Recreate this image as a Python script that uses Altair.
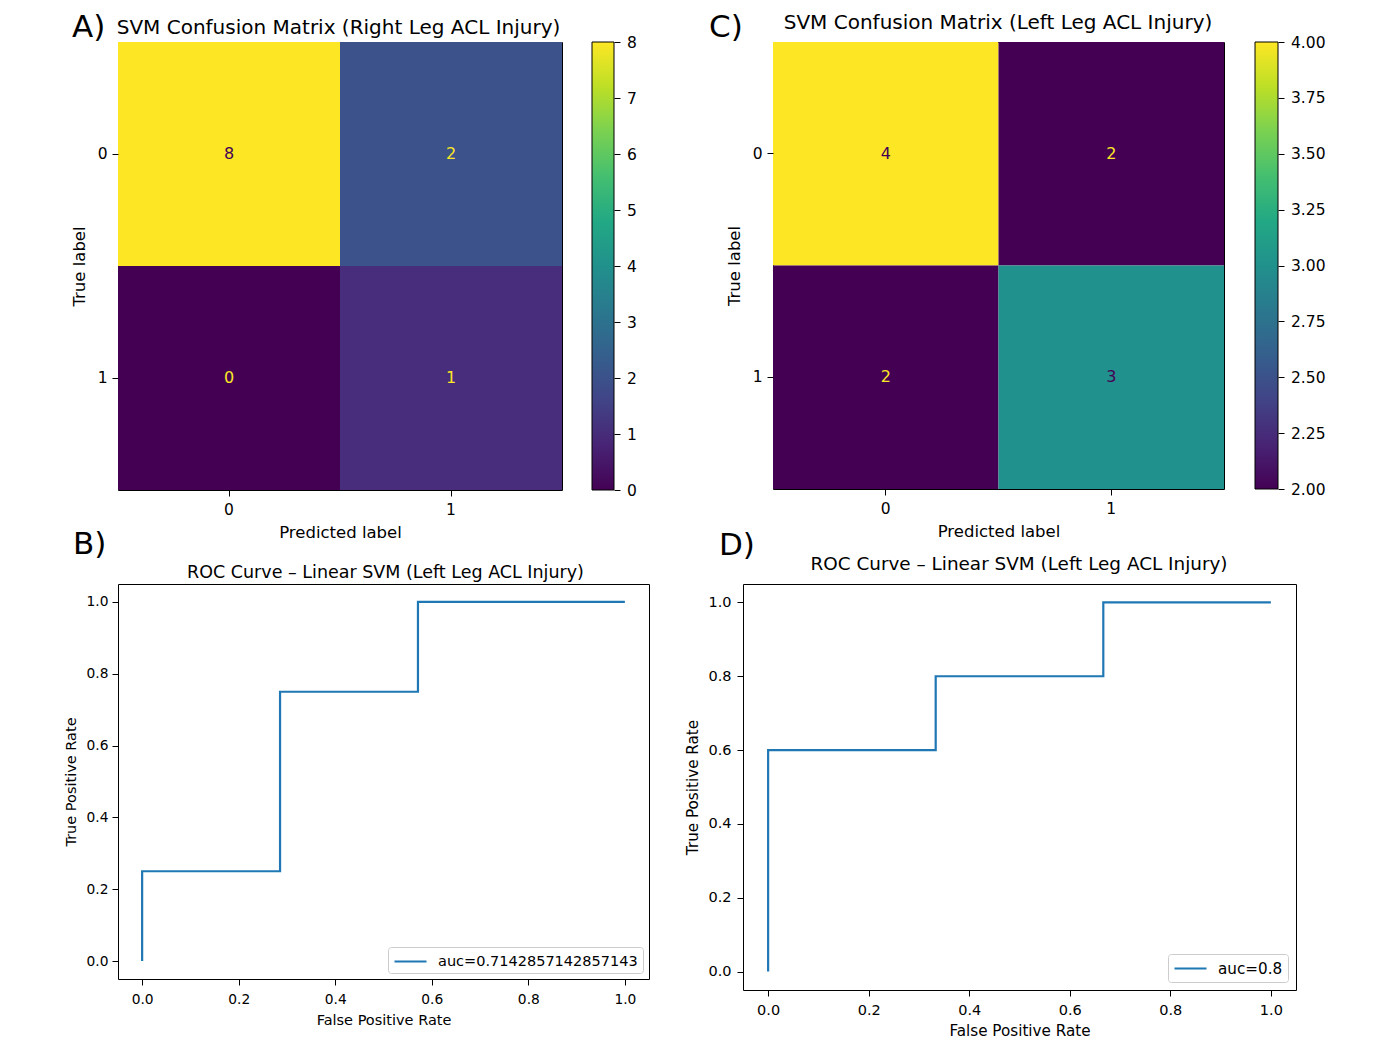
import altair as alt
import pandas as pd

FONT = "DejaVu Sans"

# ---------------- data ----------------
# Panel A: confusion matrix (right leg)
cm_a_true = [0, 0, 1, 1]
cm_a_pred = [0, 1, 0, 1]
cm_a_vals = [8, 2, 0, 1]
cbar_a_ticks = [0, 1, 2, 3, 4, 5, 6, 7, 8]
title_a = "SVM Confusion Matrix (Right Leg ACL Injury)"

# Panel C: confusion matrix (left leg)
cm_c_true = [0, 0, 1, 1]
cm_c_pred = [0, 1, 0, 1]
cm_c_vals = [4, 2, 2, 3]
cbar_c_ticks = [2.0, 2.25, 2.5, 2.75, 3.0, 3.25, 3.5, 3.75, 4.0]
title_c = "SVM Confusion Matrix (Left Leg ACL Injury)"

# Panel B: ROC curve
roc_b_fpr = [0.0, 0.0, 0.2857, 0.2857, 0.5714, 0.5714, 1.0]
roc_b_tpr = [0.0, 0.25, 0.25, 0.75, 0.75, 1.0, 1.0]
roc_b_label = "auc=0.7142857142857143"
title_b = "ROC Curve \u2013 Linear SVM (Left Leg ACL Injury)"

# Panel D: ROC curve
roc_d_fpr = [0.0, 0.0, 0.3333, 0.3333, 0.6667, 0.6667, 1.0]
roc_d_tpr = [0.0, 0.6, 0.6, 0.8, 0.8, 1.0, 1.0]
roc_d_label = "auc=0.8"
title_d = "ROC Curve \u2013 Linear SVM (Left Leg ACL Injury)"

roc_ticks = [0.0, 0.2, 0.4, 0.6, 0.8, 1.0]

VIRIDIS = ["#440154", "#482475", "#414487", "#355f8d", "#2a788e", "#21918c",
           "#22a884", "#44bf70", "#7ad151", "#bddf26", "#fde725"]


def text_layer(txt, x, y, size, align):
    return alt.Chart(pd.DataFrame({"t": [txt]})).mark_text(
        font=FONT, fontSize=size, align=align, baseline="alphabetic", color="black"
    ).encode(x=alt.value(x), y=alt.value(y), text=alt.Text("t:N"))


def confusion_panel(true, pred, vals, ticks, fmt, letter, title, w, h,
                    cbar_x, cbar_w, title_xy, letter_xy):
    df = pd.DataFrame({"true": true, "pred": pred, "value": vals})
    vmin, vmax = min(ticks), max(ticks)
    thresh = (vmin + vmax) / 2
    base = alt.Chart(df)
    xenc = alt.X("pred:O", title="Predicted label",
                 scale=alt.Scale(paddingInner=0, paddingOuter=0),
                 axis=alt.Axis(labelAngle=0, tickSize=6, labelPadding=6,
                               labelFontSize=15.5, titleFontSize=16.5,
                               titlePadding=7, bandPosition=0.5))
    yenc = alt.Y("true:O", title="True label",
                 scale=alt.Scale(paddingInner=0, paddingOuter=0),
                 axis=alt.Axis(tickSize=6, labelPadding=5, labelFontSize=15.5,
                               titleFontSize=16.5, titlePadding=9.5,
                               bandPosition=0.5))
    heat = base.mark_rect().encode(
        x=xenc, y=yenc,
        color=alt.Color("value:Q",
                        scale=alt.Scale(scheme="viridis", domain=[vmin, vmax]),
                        legend=None),
    )
    cells = base.mark_text(font=FONT, fontSize=16).encode(
        x=alt.X("pred:O"), y=alt.Y("true:O"),
        text=alt.Text("value:Q"),
        color=alt.condition(f"datum.value >= {thresh}",
                            alt.value("#440154"), alt.value("#fde725")),
    )
    grad = alt.Gradient(
        gradient="linear", x1=0, x2=0, y1=1, y2=0,
        stops=[alt.GradientStop(color=c, offset=i / (len(VIRIDIS) - 1))
               for i, c in enumerate(VIRIDIS)],
    )
    cb_df = pd.DataFrame({"lo": [vmin], "hi": [vmax]})
    cbar = alt.Chart(cb_df).mark_rect(fill=grad, stroke="black", strokeWidth=1).encode(
        x=alt.value(cbar_x), x2=alt.value(cbar_x + cbar_w),
        y=alt.Y("lo:Q", title=None,
                scale=alt.Scale(domain=[vmin, vmax], nice=False, zero=False),
                axis=alt.Axis(orient="right", offset=cbar_x + cbar_w - w,
                              values=ticks, format=fmt, tickSize=6,
                              labelPadding=6.5, labelFontSize=15.5,
                              domain=False, grid=False)),
        y2=alt.Y2("hi:Q"),
    )
    t1 = text_layer(title, title_xy[0], title_xy[1], 20, "center")
    t2 = text_layer(letter, letter_xy[0], letter_xy[1], 31, "left")
    return alt.layer(alt.layer(heat, cells), cbar, t1, t2).resolve_scale(
        y="independent").properties(width=w, height=h)


def roc_panel(fpr, tpr, label, letter, title, w, h, fs, title_xy, letter_xy,
              xpad, xtpad, ypad, ytpad, leg_off):
    df = pd.DataFrame({"fpr": fpr, "tpr": tpr,
                       "idx": list(range(len(fpr))), "series": label})
    sc = alt.Scale(domain=[-0.05, 1.05], nice=False, zero=False)
    line = alt.Chart(df).mark_line(strokeWidth=2.2).encode(
        x=alt.X("fpr:Q", title="False Positive Rate", scale=sc,
                axis=alt.Axis(values=roc_ticks, format=".1f", tickSize=6,
                              labelPadding=xpad, labelFontSize=fs["tick"],
                              titleFontSize=fs["label"], titlePadding=xtpad,
                              labelFlush=False)),
        y=alt.Y("tpr:Q", title="True Positive Rate", scale=sc,
                axis=alt.Axis(values=roc_ticks, format=".1f", tickSize=6,
                              labelPadding=ypad, labelFontSize=fs["tick"],
                              titleFontSize=fs["label"], titlePadding=ytpad)),
        order=alt.Order("idx:Q"),
        color=alt.Color("series:N", scale=alt.Scale(range=["#1f77b4"]),
                        legend=alt.Legend(
                            title=None, orient="bottom-right", offset=leg_off,
                            padding=5, fillColor="rgba(255,255,255,0.8)",
                            strokeColor="#cccccc", cornerRadius=3,
                            symbolType="M-2,0H2", symbolSize=256,
                            symbolStrokeWidth=2.2, symbolOffset=8,
                            labelOffset=18, labelFontSize=fs["label"],
                            labelLimit=500)),
    )
    t1 = text_layer(title, title_xy[0], title_xy[1], fs["title"], "center")
    t2 = text_layer(letter, letter_xy[0], letter_xy[1], 31, "left")
    return alt.layer(line, t1, t2).properties(width=w, height=h)


A = confusion_panel(cm_a_true, cm_a_pred, cm_a_vals, cbar_a_ticks, "d", "A)",
                    title_a, 444, 448, 474, 22, (220.5, -8), (-46, -5))
C = confusion_panel(cm_c_true, cm_c_pred, cm_c_vals, cbar_c_ticks, ".2f", "C)",
                    title_c, 451, 447, 482, 23, (225, -13), (-64, -5))
B = roc_panel(roc_b_fpr, roc_b_tpr, roc_b_label, "B)", title_b, 531, 395,
              {"tick": 13.8, "label": 14.5, "title": 17.5},
              (267.5, -6), (-45, -30), 7.5, 6.8, 4, 7.2, 6)
D = roc_panel(roc_d_fpr, roc_d_tpr, roc_d_label, "D)", title_d, 553, 406,
              {"tick": 14.5, "label": 15.2, "title": 18.4},
              (276, -14), (-24, -29), 7.8, 6.3, 6, 7.7, 8)

row1 = alt.hconcat(A, C, spacing=71).resolve_scale(
    color="independent").resolve_legend(color="independent")
row2 = alt.hconcat(B, D, spacing=34).resolve_scale(
    color="independent").resolve_legend(color="independent")

chart = alt.vconcat(row1, row2, spacing=-14).resolve_scale(
    color="independent"
).resolve_legend(color="independent").properties(
    autosize=alt.AutoSizeParams(type="none"),
    padding={"left": 110, "top": 34, "right": 1251, "bottom": 1000},
).configure(font=FONT, background="white").configure_view(
    stroke="black", strokeWidth=1
).configure_axis(
    grid=False, domain=False, tickColor="black", tickWidth=1,
    labelColor="black", titleColor="black", titleFontWeight="normal",
    labelFont=FONT, titleFont=FONT
).configure_legend(labelFont=FONT, labelColor="black")

chart.save("out.html", embed_options={"renderer": "svg", "actions": False})
